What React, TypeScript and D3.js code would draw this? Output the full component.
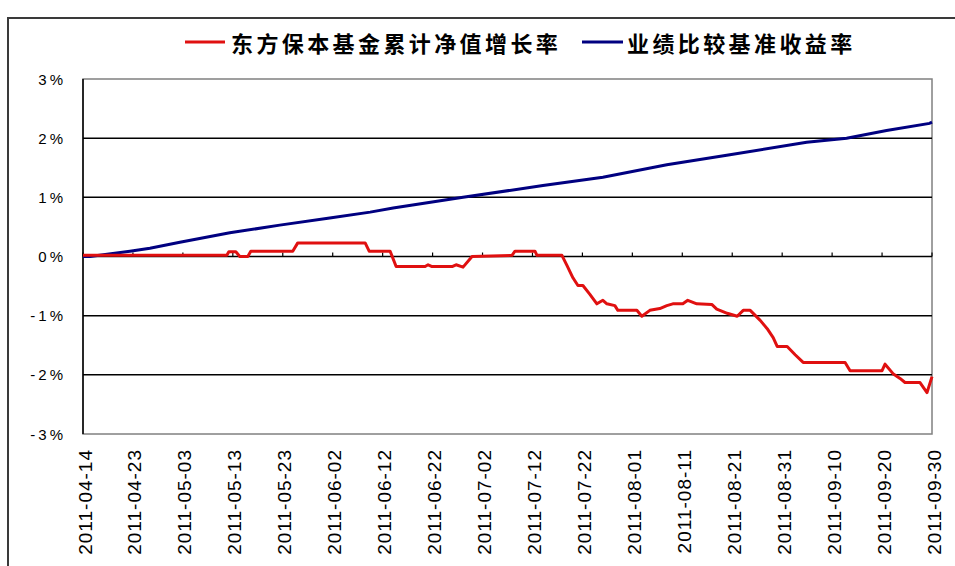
import React from "react";
import * as d3 from "d3";

const tickLabels = [
  "2011-04-14", "2011-04-23", "2011-05-03", "2011-05-13", "2011-05-23", "2011-06-02",
  "2011-06-12", "2011-06-22", "2011-07-02", "2011-07-12", "2011-07-22", "2011-08-01",
  "2011-08-11", "2011-08-21", "2011-08-31", "2011-09-10", "2011-09-20", "2011-09-30",
];
const yTicks = [3, 2, 1, 0, -1, -2, -3];
const seriesNames = ["东方保本基金累计净值增长率", "业绩比较基准收益率"];

// [position index (10 per label interval), value in %]
const fundIdx = [0, 28.8, 29.2, 30.6, 31.4, 33, 33.6, 42, 43, 56.5, 57.3, 61.5, 62.7, 68.5, 69.1, 69.9, 73.9, 74.7, 76.1, 77.9, 85.9, 86.5, 90.5, 90.9, 95.9, 96.9, 98.1, 99.1, 100.1, 101.5, 102.9, 104.1, 104.9, 106.5, 107.1, 110.9, 111.9, 113.5, 115.5, 116.9, 118.1, 120.1, 121.1, 122.9, 125.9, 126.9, 129, 131, 132.2, 133.6, 135.6, 137, 138.2, 139, 141, 142.6, 144.2, 152.6, 153.6, 160, 160.6, 162.2, 163.6, 164.6, 167.6, 169, 170];
const fundVal = [0.02, 0.02, 0.08, 0.08, 0.0, 0.0, 0.09, 0.09, 0.23, 0.23, 0.09, 0.09, -0.17, -0.17, -0.14, -0.17, -0.17, -0.14, -0.18, 0.0, 0.02, 0.09, 0.09, 0.02, 0.02, -0.15, -0.36, -0.49, -0.49, -0.64, -0.8, -0.74, -0.8, -0.83, -0.91, -0.91, -1.01, -0.91, -0.88, -0.83, -0.8, -0.8, -0.74, -0.8, -0.81, -0.89, -0.96, -1.01, -0.91, -0.91, -1.08, -1.22, -1.37, -1.52, -1.52, -1.66, -1.79, -1.79, -1.93, -1.93, -1.82, -1.98, -2.06, -2.13, -2.13, -2.3, -2.03];

const benchIdx = [0, 1.4, 9.4, 13.4, 19.4, 29.4, 39.4, 49.4, 57.5, 62.1, 76.1, 92.1, 104.1, 116.9, 128.9, 144.9, 152.9, 160.9, 169.5, 170];
const benchVal = [0, 0, 0.09, 0.14, 0.24, 0.4, 0.53, 0.65, 0.75, 0.82, 1.0, 1.2, 1.34, 1.55, 1.71, 1.93, 2.0, 2.13, 2.25, 2.27];

const W = 955, H = 566;
const left = 83, right = 932, top = 79, bottom = 434;

export default function App() {
  const x = d3.scaleLinear().domain([0, (tickLabels.length - 1) * 10]).range([left, right]);
  const y = d3.scaleLinear().domain([-3, 3]).range([bottom, top]);
  const line = d3.line<[number, number]>().x(d => x(d[0])).y(d => y(d[1]));
  const fund: [number, number][] = fundIdx.map((d, i) => [d, fundVal[i]]);
  const bench: [number, number][] = benchIdx.map((d, i) => [d, benchVal[i]]);

  return (
    <svg width={W} height={H} style={{ position: "absolute", left: 0, top: 0, background: "#fff" }}>
      <rect x={8} y={18} width={1000} height={600} fill="#fff" stroke="#3a3a3a" strokeWidth={2} />
      {/* legend */}
      <g fontFamily="'Noto Sans CJK SC', sans-serif" fontWeight={700} fontSize={22} fill="#000">
        <line x1={185} x2={225} y1={42} y2={42} stroke="#e01010" strokeWidth={3} />
        <text x={231} y={42} dominantBaseline="central" letterSpacing={3.4}>{seriesNames[0]}</text>
        <line x1={582} x2={623} y1={42} y2={42} stroke="#000080" strokeWidth={3} />
        <text x={627} y={42} dominantBaseline="central" letterSpacing={3.4}>{seriesNames[1]}</text>
      </g>
      {/* plot border */}
      <rect x={left} y={top} width={right - left} height={bottom - top} fill="none" stroke="#808080" strokeWidth={1.5} />
      {/* gridlines */}
      {yTicks.filter(t => t !== 3 && t !== -3).map(t => (
        <line key={t} x1={left} x2={right} y1={y(t)} y2={y(t)} stroke="#000" strokeWidth={1.5} />
      ))}
      {/* ticks on zero axis */}
      {tickLabels.map((_, i) => (
        <line key={i} x1={x(i * 10)} x2={x(i * 10)} y1={y(0)} y2={y(0) - 4} stroke="#000" strokeWidth={1.2} />
      ))}
      <line x1={left} x2={left} y1={top} y2={bottom} stroke="#000" strokeWidth={1.5} />
      {/* y labels */}
      <g fontFamily="'Liberation Sans', Arial, sans-serif" fontSize={15} fill="#000">
        {yTicks.map(t => (
          <text key={t} x={66} y={y(t)} textAnchor="end" dominantBaseline="central" letterSpacing={3}>
            {`${t}%`.replace("-", "-")}
          </text>
        ))}
      </g>
      {/* x labels */}
      <g fontFamily="'Liberation Sans', Arial, sans-serif" fontSize={19} fill="#000">
        {tickLabels.map((l, i) => (
          <text key={l} transform={`translate(${x(i * 10) + 2},449) rotate(-90)`} textAnchor="end" dominantBaseline="central" letterSpacing={1}>
            {l}
          </text>
        ))}
      </g>
      {/* series */}
      <path d={line(bench) || ""} fill="none" stroke="#000080" strokeWidth={3} />
      <path d={line(fund) || ""} fill="none" stroke="#e01010" strokeWidth={3} strokeLinejoin="round" />
    </svg>
  );
}
